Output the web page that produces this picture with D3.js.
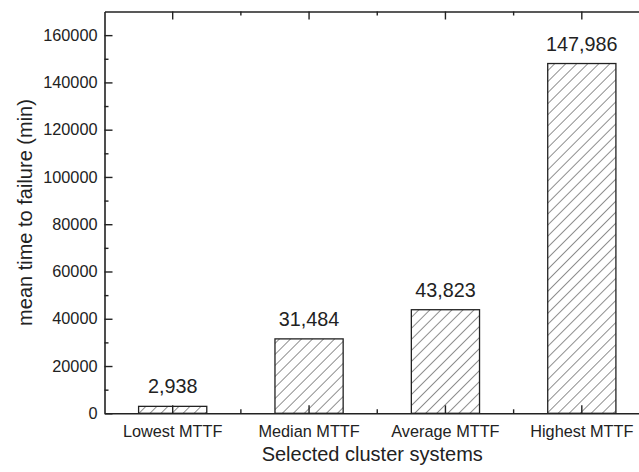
<!DOCTYPE html>
<html>
<head>
<meta charset="utf-8">
<script src="https://cdn.jsdelivr.net/npm/d3@7"></script>
<style>
  html, body { margin: 0; padding: 0; background: #fff; }
  svg { display: block; font-family: "Liberation Sans", Arial, Helvetica, sans-serif; }
</style>
</head>
<body>
<svg id="chart" width="639" height="472"></svg>
<script>
// Mean time to failure of selected cluster systems
const categories = ["Lowest MTTF", "Median MTTF", "Average MTTF", "Highest MTTF"];
const mttf = [2938, 31484, 43823, 147986];
const yTicks = [0, 20000, 40000, 60000, 80000, 100000, 120000, 140000, 160000];
const yMinorTicks = [10000, 30000, 50000, 70000, 90000, 110000, 130000, 150000];

const ink = "#222";
const fontFamily = '"Liberation Sans", Arial, Helvetica, sans-serif';
const svg = d3.select("#chart");

const plotLeft = 104.5, plotRight = 650, plotTop = 11.5, plotBottom = 413.3;

const x = d3.scaleBand()
  .domain(categories)
  .range([plotLeft, plotRight])
  .paddingInner(0.5)
  .paddingOuter(0.25);

const y = d3.scaleLinear()
  .domain([0, 170000])
  .range([plotBottom, plotTop]);

// diagonal hatch fill
const defs = svg.append("defs");
const pat = defs.append("pattern")
  .attr("id", "hatch")
  .attr("patternUnits", "userSpaceOnUse")
  .attr("width", 7.8)
  .attr("height", 7.8)
  .attr("patternTransform", "rotate(45)");
pat.append("rect").attr("width", 7.8).attr("height", 7.8).attr("fill", "#fff");
pat.append("line")
  .attr("x1", 0).attr("y1", -1).attr("x2", 0).attr("y2", 9)
  .attr("stroke", "#333").attr("stroke-width", 1.1);

// bars
svg.append("g")
  .selectAll("rect")
  .data(mttf)
  .join("rect")
  .attr("x", (d, i) => x(categories[i]))
  .attr("y", d => y(d))
  .attr("width", x.bandwidth())
  .attr("height", d => y(0) - y(d))
  .attr("fill", "url(#hatch)")
  .attr("stroke", ink)
  .attr("stroke-width", 1.3);

// value labels
svg.append("g")
  .selectAll("text")
  .data(mttf)
  .join("text")
  .attr("x", (d, i) => x(categories[i]) + x.bandwidth() / 2)
  .attr("y", d => y(d) - 13)
  .attr("text-anchor", "middle")
  .attr("font-size", 19.8)
  .attr("fill", ink)
  .text(d => d3.format(",")(d));

function styleAxis(g) {
  g.attr("font-family", fontFamily).attr("font-size", 16.3);
  g.selectAll(".domain").attr("stroke", ink).attr("stroke-width", 1.6);
  g.selectAll(".tick line").attr("stroke", ink).attr("stroke-width", 1.4);
  g.selectAll(".tick text").attr("fill", ink);
}

// left axis, ticks pointing inward
const gy = svg.append("g")
  .attr("transform", `translate(${plotLeft},0)`)
  .call(d3.axisLeft(y).tickValues(yTicks).tickFormat(d3.format("d"))
    .tickSizeInner(-8).tickSizeOuter(0).tickPadding(7));
styleAxis(gy);
const gyMinor = svg.append("g")
  .attr("transform", `translate(${plotLeft},0)`)
  .call(d3.axisLeft(y).tickValues(yMinorTicks).tickFormat("")
    .tickSizeInner(-4).tickSizeOuter(0));
styleAxis(gyMinor);
gyMinor.select(".domain").remove();

// bottom axis
const gx = svg.append("g")
  .attr("transform", `translate(0,${plotBottom})`)
  .call(d3.axisBottom(x).tickSizeInner(-8).tickSizeOuter(0).tickPadding(12));
styleAxis(gx);

// top axis
const gt = svg.append("g")
  .attr("transform", `translate(0,${plotTop})`)
  .call(d3.axisTop(x).tickSizeInner(-8).tickSizeOuter(0).tickFormat(""));
styleAxis(gt);

// minor ticks between categories, top and bottom
const boundaries = categories.slice(1).map(c => x(c) - x.step() * x.paddingInner() / 2);
svg.append("g")
  .selectAll("line")
  .data(boundaries)
  .join("line")
  .attr("x1", d => d).attr("x2", d => d)
  .attr("y1", plotBottom).attr("y2", plotBottom - 4)
  .attr("stroke", ink).attr("stroke-width", 1.4);
svg.append("g")
  .selectAll("line")
  .data(boundaries)
  .join("line")
  .attr("x1", d => d).attr("x2", d => d)
  .attr("y1", plotTop).attr("y2", plotTop + 4)
  .attr("stroke", ink).attr("stroke-width", 1.4);

// axis titles
svg.append("text")
  .attr("x", (plotLeft + 640) / 2)
  .attr("y", 461)
  .attr("text-anchor", "middle")
  .attr("font-size", 20)
  .attr("fill", ink)
  .text("Selected cluster systems");

svg.append("text")
  .attr("transform", `translate(32,212.5) rotate(-90)`)
  .attr("text-anchor", "middle")
  .attr("font-size", 20)
  .attr("fill", ink)
  .text("mean time to failure (min)");
</script>
</body>
</html>
